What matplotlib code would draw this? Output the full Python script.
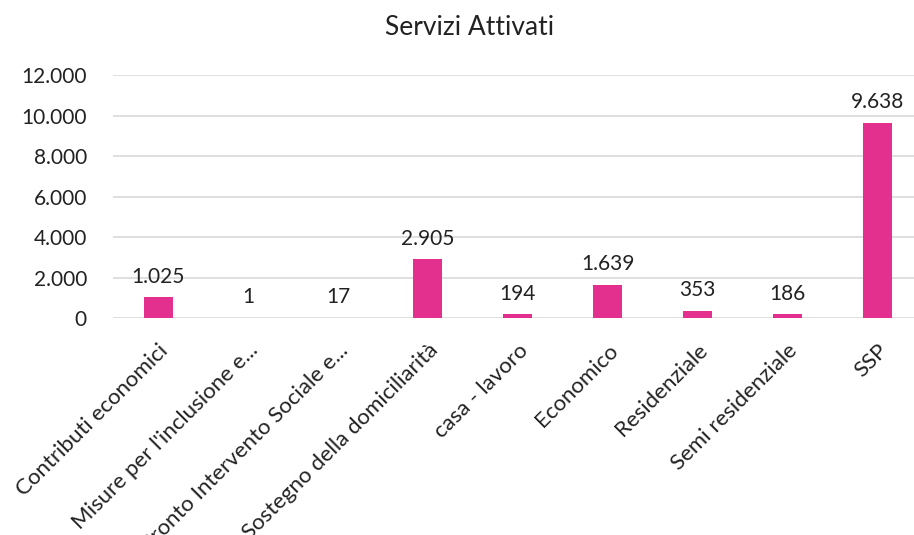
import matplotlib.pyplot as plt
import numpy as np

plt.rcParams['font.family'] = ['Lato', 'DejaVu Sans']

categories = ['Contributi economici', "Misure per l'inclusione e...",
              'Pronto Intervento Sociale e...', 'Sostegno della domiciliarità',
              'casa - lavoro', 'Economico', 'Residenziale', 'Semi residenziale', 'SSP']
values = [1025, 1, 17, 2905, 194, 1639, 353, 186, 9638]
yticks = [0, 2000, 4000, 6000, 8000, 10000, 12000]


def it_fmt(v):
    # italian thousands separator
    return f'{int(v):,}'.replace(',', '.')


fig = plt.figure(figsize=(9.14, 5.35), dpi=100)
ax = fig.add_axes([0.124, 0.4056, 0.876, 0.4542])

x = np.arange(len(categories))
bars = ax.bar(x, values, width=0.32, color='#E3308F', zorder=3)

for xi, v in zip(x, values):
    ax.text(xi, v + 520, it_fmt(v), ha='center', va='bottom', fontsize=15, color='#222222')

ax.set_ylim(0, 12000)
ax.set_xlim(-0.5, 8.41)
ax.set_yticks(yticks)
ax.set_yticklabels([it_fmt(t) for t in yticks], fontsize=15, color='#222222')
ax.set_xticks(x)
ax.set_xticklabels(categories, rotation=45, ha='right', va='top', rotation_mode='anchor',
                   fontsize=16, color='#222222')
ax.tick_params(axis='both', length=0)
ax.tick_params(axis='y', pad=19)
ax.tick_params(axis='x', pad=16)
ax.grid(axis='y', color='#D9D9D9', linewidth=1.2, zorder=0)
for s in ax.spines.values():
    s.set_visible(False)

fig.text(0.514, 0.948, 'Servizi Attivati', ha='center', va='center', fontsize=19, color='#222222')

plt.savefig('out.png', dpi=100)
